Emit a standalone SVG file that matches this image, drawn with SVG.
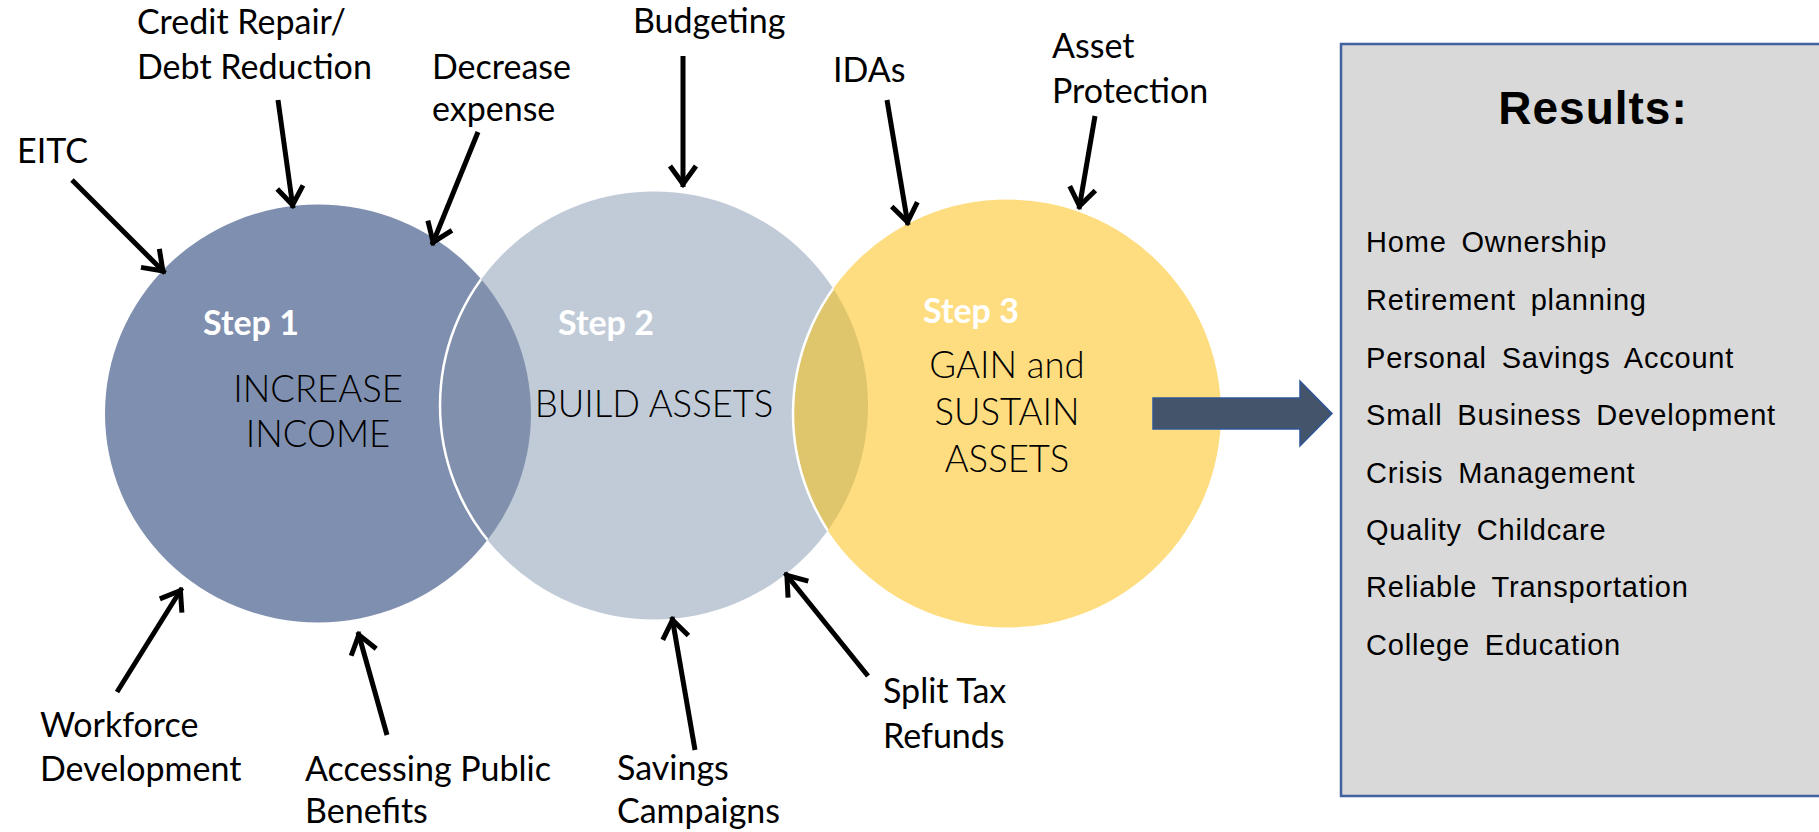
<svg xmlns="http://www.w3.org/2000/svg" width="1819" height="832" viewBox="0 0 1819 832">
  <style>
    .lbl { font-family: Lato, "Open Sans", sans-serif; font-size: 34px; fill: #000; }
    .step { font-family: Lato, "Open Sans", sans-serif; font-size: 34px; font-weight: 700; fill: #fff; }
    .main { font-family: Lato, "Open Sans", sans-serif; font-size: 36.5px; font-weight: 300; fill: #000; text-anchor: middle; }
    .res { font-family: "Liberation Sans", Arial, sans-serif; font-size: 29px; fill: #000; letter-spacing: 0.8px; word-spacing: 6px; }
    .conn line { stroke: #000; stroke-width: 5; marker-end: url(#chev); }
  </style>
  <defs>
    <marker id="chev" markerUnits="userSpaceOnUse" viewBox="-30 -20 40 40" markerWidth="40" markerHeight="40" refX="3" refY="0" orient="auto">
      <path d="M-18,-13 L0,0 L-18,13" fill="none" stroke="#000" stroke-width="5" stroke-linejoin="miter" stroke-miterlimit="10"/>
    </marker>
    <clipPath id="clip1"><ellipse cx="318" cy="413.5" rx="213" ry="209"/></clipPath>
    <clipPath id="clip2"><circle cx="654" cy="405.5" r="214"/></clipPath>
  </defs>
  <rect width="1819" height="832" fill="#fff"/>

  <g id="step1">
    <ellipse cx="318" cy="413.5" rx="213" ry="209" fill="#7F8FAF"/>
  </g>
  <g id="step2">
    <circle cx="654" cy="405.5" r="214" fill="#C1CBD8"/>
    <circle cx="654" cy="405.5" r="214" fill="#8191AD" clip-path="url(#clip1)"/>
    <circle cx="654" cy="405.5" r="214" fill="none" stroke="#fff" stroke-width="2.5" clip-path="url(#clip1)"/>
  </g>
  <g id="step3">
    <circle cx="1007" cy="413.5" r="214" fill="#FEDD81"/>
    <circle cx="1007" cy="413.5" r="214" fill="#DFC56C" clip-path="url(#clip2)"/>
    <circle cx="1007" cy="413.5" r="214" fill="none" stroke="#fff" stroke-width="2.5" clip-path="url(#clip2)"/>
  </g>
  <g id="step1-text">
    <text class="step" x="203" y="335">Step 1</text>
    <text class="main" x="318" y="402">INCREASE</text>
    <text class="main" x="318" y="447">INCOME</text>
  </g>
  <g id="step2-text">
    <text class="step" x="558" y="335">Step 2</text>
    <text class="main" x="654" y="417">BUILD ASSETS</text>
  </g>
  <g id="step3-text">
    <text class="step" x="923" y="323">Step 3</text>
    <text class="main" x="1007" y="378">GAIN and</text>
    <text class="main" x="1007" y="425">SUSTAIN</text>
    <text class="main" x="1007" y="472">ASSETS</text>
  </g>

  <g id="label-eitc"><text class="lbl" x="17" y="163">EITC</text></g>
  <g id="label-credit"><text class="lbl" x="137" y="34">Credit Repair/</text><text class="lbl" x="137" y="79">Debt Reduction</text></g>
  <g id="label-decrease"><text class="lbl" x="432" y="79">Decrease</text><text class="lbl" x="432" y="121">expense</text></g>
  <g id="label-budgeting"><text class="lbl" x="633" y="33">Budgeting</text></g>
  <g id="label-idas"><text class="lbl" x="833" y="82">IDAs</text></g>
  <g id="label-asset"><text class="lbl" x="1052" y="58">Asset</text><text class="lbl" x="1052" y="103">Protection</text></g>
  <g id="label-workforce"><text class="lbl" x="40" y="737">Workforce</text><text class="lbl" x="40" y="781">Development</text></g>
  <g id="label-accessing"><text class="lbl" x="305" y="781">Accessing Public</text><text class="lbl" x="305" y="823">Benefits</text></g>
  <g id="label-savings"><text class="lbl" x="617" y="780">Savings</text><text class="lbl" x="617" y="823">Campaigns</text></g>
  <g id="label-split"><text class="lbl" x="883" y="703">Split Tax</text><text class="lbl" x="883" y="748">Refunds</text></g>

  <g id="connectors" class="conn">
    <line x1="72" y1="180" x2="165" y2="273"/>
    <line x1="278" y1="100" x2="293" y2="208"/>
    <line x1="478" y1="132" x2="432" y2="245"/>
    <line x1="683" y1="56" x2="683" y2="187"/>
    <line x1="887" y1="100" x2="908" y2="225"/>
    <line x1="1095" y1="116" x2="1079" y2="209"/>
    <line x1="117" y1="692" x2="182" y2="588"/>
    <line x1="387" y1="735" x2="358" y2="632"/>
    <line x1="695" y1="750" x2="672" y2="617"/>
    <line x1="868" y1="676" x2="785" y2="573"/>
  </g>

  <g id="result-arrow">
    <path d="M1153,398 L1300,398 L1300,381 L1332,413.5 L1300,446 L1300,429 L1153,429 Z" fill="#44546A" stroke="#2F5597" stroke-width="1.5"/>
  </g>

  <g id="results">
    <rect x="1341" y="44" width="490" height="752" fill="#D9D9D9" stroke="#41619F" stroke-width="2.5"/>
    <text x="1593" y="124" font-family="'Liberation Sans', Arial, sans-serif" font-size="46" font-weight="700" letter-spacing="1" text-anchor="middle">Results:</text>
    <text class="res" x="1366" y="252">Home Ownership</text>
    <text class="res" x="1366" y="310">Retirement planning</text>
    <text class="res" x="1366" y="368">Personal Savings Account</text>
    <text class="res" x="1366" y="425">Small Business Development</text>
    <text class="res" x="1366" y="483">Crisis Management</text>
    <text class="res" x="1366" y="540">Quality Childcare</text>
    <text class="res" x="1366" y="597">Reliable Transportation</text>
    <text class="res" x="1366" y="655">College Education</text>
  </g>
</svg>
